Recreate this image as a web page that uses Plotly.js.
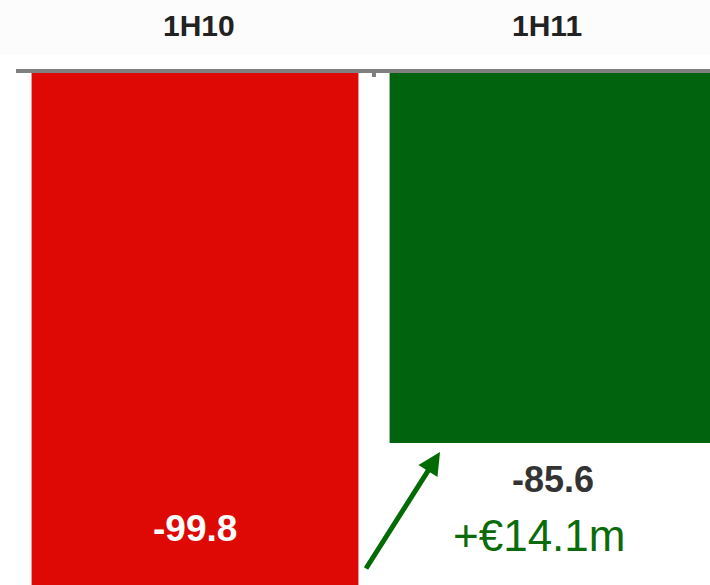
<!DOCTYPE html>
<html>
<head>
<meta charset="utf-8">
<script src="https://cdn.plot.ly/plotly-3.0.1.min.js"></script>
<style>
html,body{margin:0;padding:0;overflow:hidden;background:#fff;}
#chart{width:710px;height:585px;}
</style>
</head>
<body>
<div id="chart"></div>
<script>
// Data
const categories = ['1H10', '1H11'];
const values = [-99.8, -85.6];
const valueLabels = ['-99.8', '-85.6'];
const changeLabel = '+€14.1m';
const barColors = ['#de0904', '#02630f'];

const FONT = 'Liberation Sans, Arial, Helvetica, sans-serif';
const GREEN_TEXT = '#0b6b0b';

const trace = {
  type: 'bar',
  x: categories,
  y: values,
  width: 0.913,
  marker: {color: barColors, line: {width: 0}},
  hoverinfo: 'skip'
};

const annotations = [
  // category headers
  {xref: 'x', yref: 'paper', x: categories[0], y: 1.0918, xshift: 4, text: categories[0], showarrow: false,
   font: {family: FONT, size: 30, weight: 700, color: '#222222'}, yanchor: 'middle'},
  {xref: 'x', yref: 'paper', x: categories[1], y: 1.0918, xshift: -6, text: categories[1], showarrow: false,
   font: {family: FONT, size: 30, weight: 700, color: '#222222'}, yanchor: 'middle'},
  // value labels
  {xref: 'x', yref: 'y', x: categories[0], y: values[0], yshift: 57, text: valueLabels[0], showarrow: false,
   font: {family: FONT, size: 37, weight: 700, color: '#ffffff'}, yanchor: 'middle'},
  {xref: 'x', yref: 'y', x: categories[1], y: values[1], yshift: -36, text: valueLabels[1], showarrow: false,
   font: {family: FONT, size: 36, weight: 700, color: '#333333'}, yanchor: 'middle'},
  // change label
  {xref: 'x', yref: 'y', x: categories[1], y: values[1], yshift: -92, xshift: -14, text: changeLabel, showarrow: false,
   font: {family: FONT, size: 44, color: GREEN_TEXT}, yanchor: 'middle'},
  // arrow
  {xref: 'x', yref: 'y', x: 0.6844, y: -86.5, ax: -75, ay: 118, text: '', showarrow: true,
   arrowhead: 2, arrowsize: 0.9, arrowwidth: 5, arrowcolor: '#036b03', standoff: 0}
];

const layout = {
  width: 710,
  height: 585,
  margin: {l: 16, r: 0, t: 73, b: 0, pad: 0},
  paper_bgcolor: '#ffffff',
  plot_bgcolor: '#ffffff',
  showlegend: false,
  xaxis: {
    type: 'category',
    range: [-0.5, 1.4385],
    side: 'top',
    showline: true,
    linecolor: '#808080',
    linewidth: 4,
    ticks: 'inside',
    tickson: 'boundaries',
    ticklen: 4,
    tickwidth: 4,
    tickcolor: '#808080',
    showticklabels: false,
    showgrid: false,
    zeroline: false,
    fixedrange: true
  },
  yaxis: {
    range: [-99.8, -48.6],
    visible: false,
    showgrid: false,
    zeroline: false,
    fixedrange: true
  },
  shapes: [
    {type: 'rect', xref: 'paper', yref: 'paper', x0: -0.03, x1: 1.01, y0: 1.0352, y1: 1.1426,
     fillcolor: '#fcfcfc', line: {width: 0}, layer: 'below'}
  ],
  annotations: annotations
};

Plotly.newPlot('chart', [trace], layout, {displayModeBar: false, staticPlot: true});
</script>
</body>
</html>
